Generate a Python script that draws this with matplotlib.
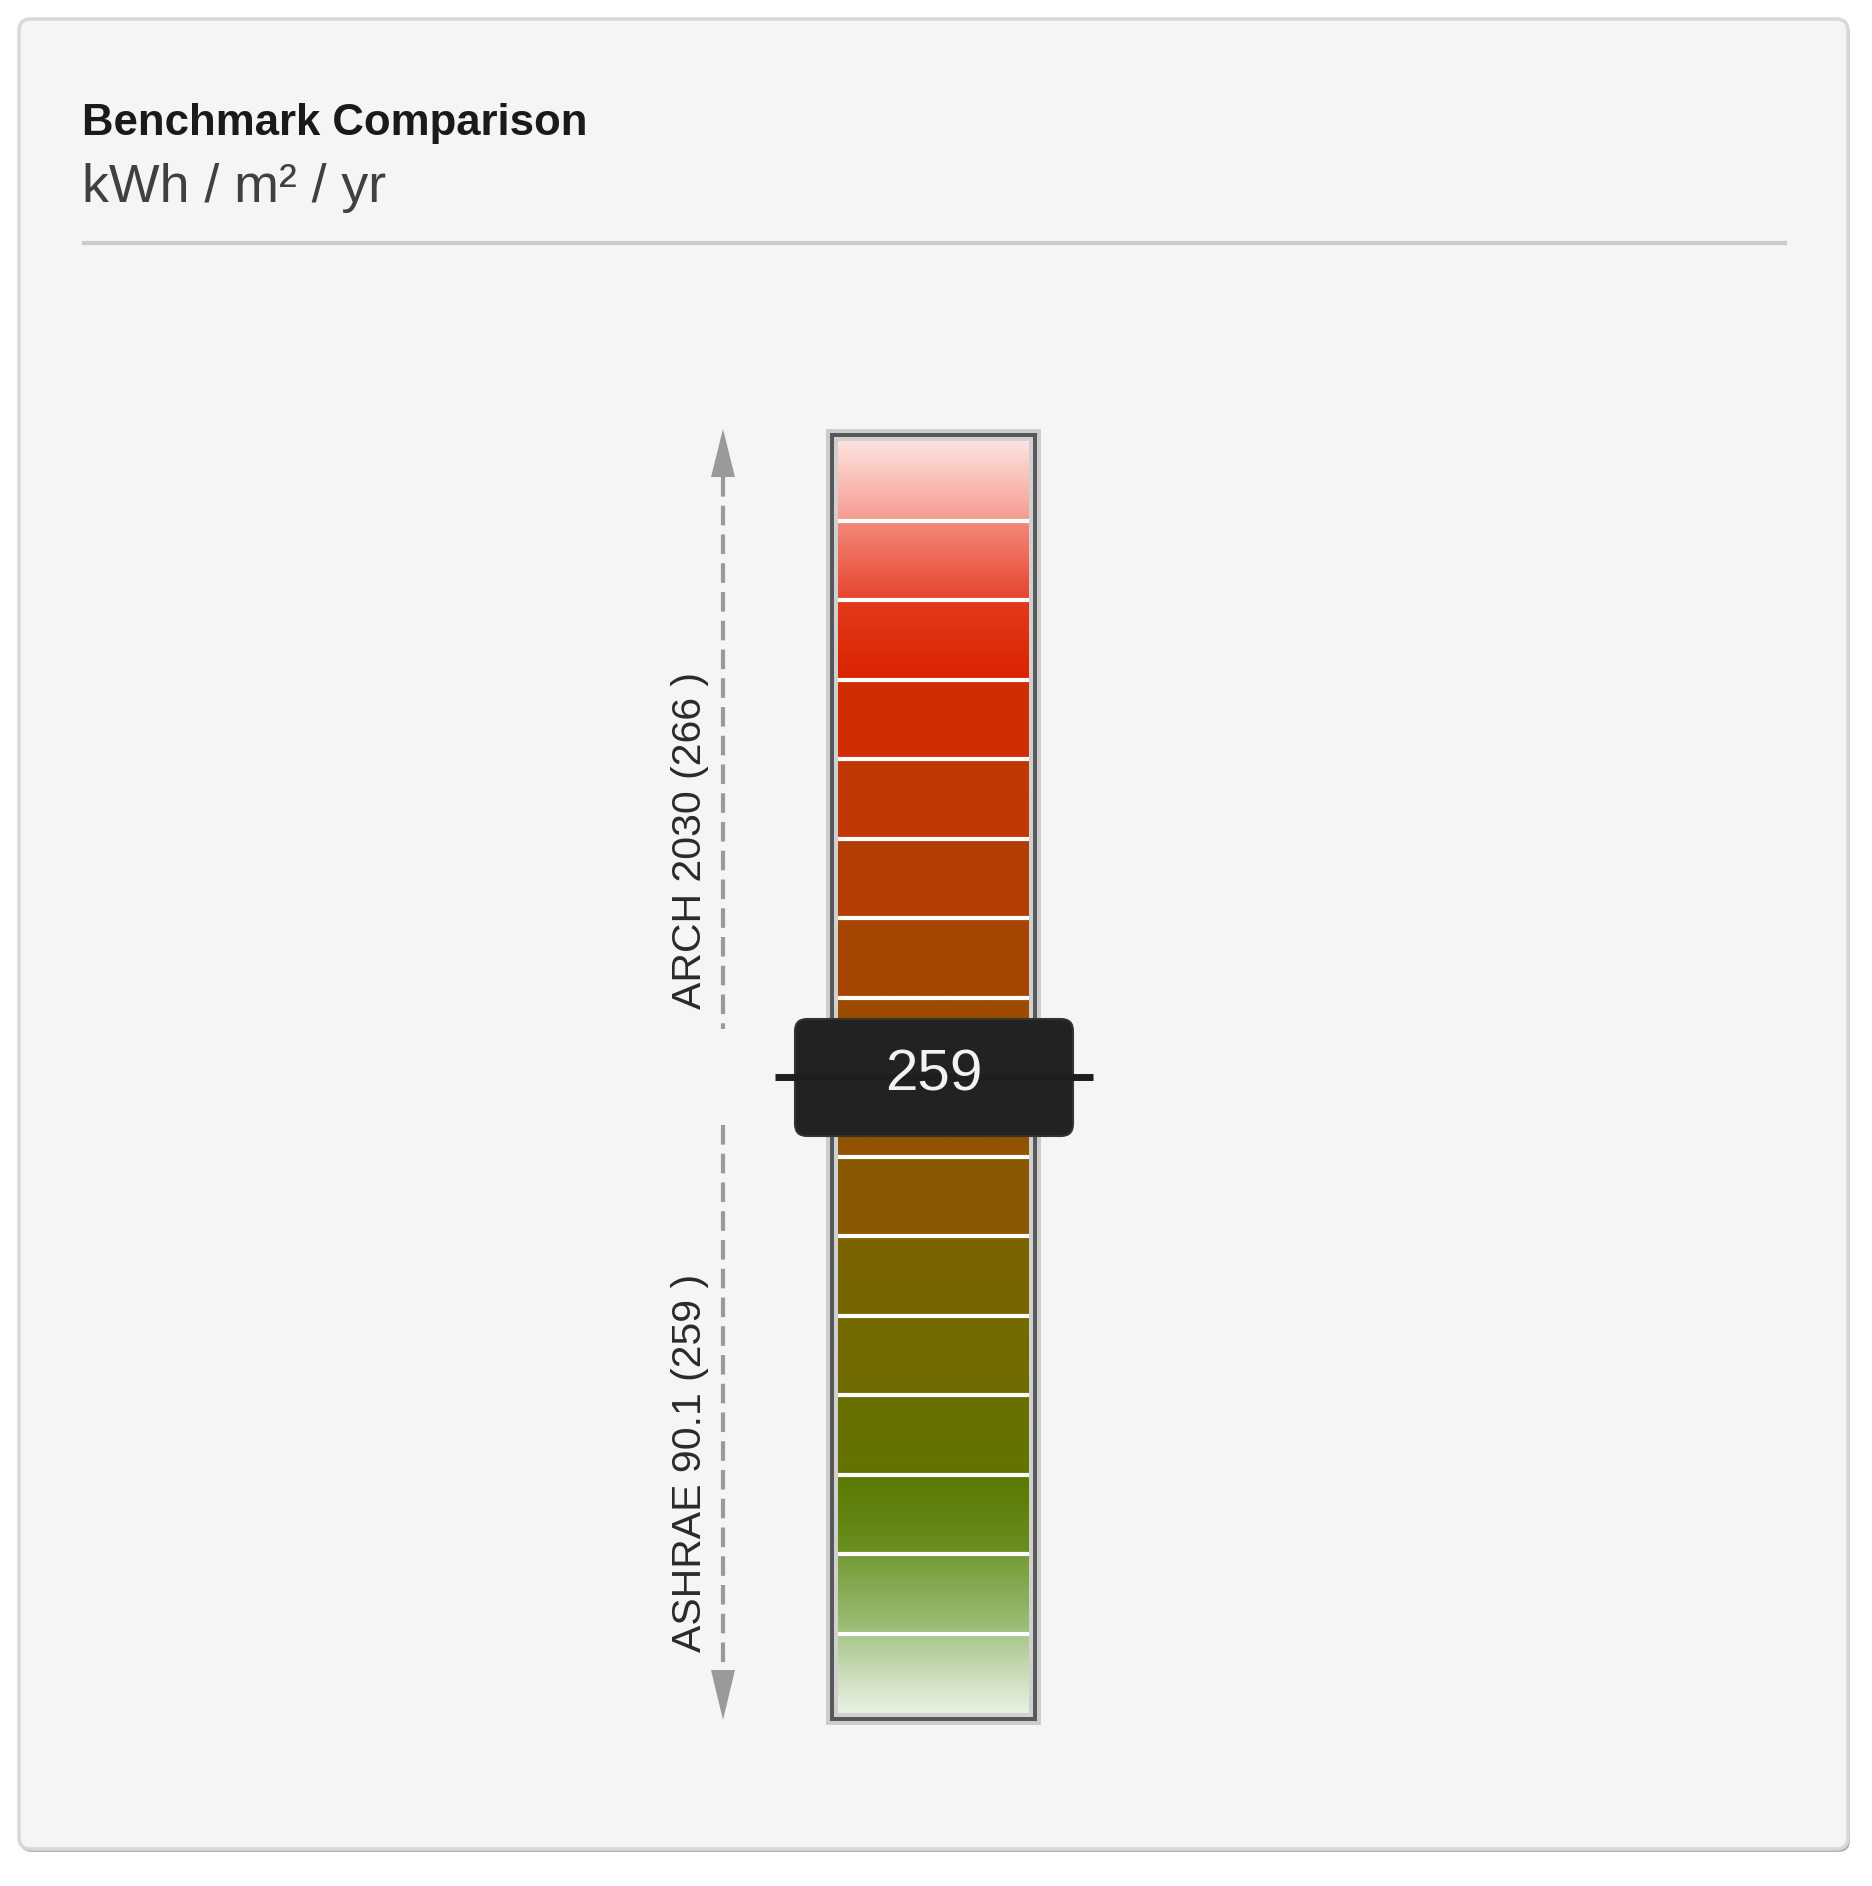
import numpy as np
import matplotlib
matplotlib.use("Agg")
import matplotlib.pyplot as plt
from matplotlib.colors import LinearSegmentedColormap
from matplotlib.patches import FancyBboxPatch, Rectangle, Polygon

# --- data ---
title = "Benchmark Comparison"
unit = "kWh / m² / yr"
current_value = 259
scale_lo, scale_hi = 252, 266
labels = ["ARCH 2030 (266 )", "ASHRAE 90.1 (259 )"]

# gradient colours of the 16 bands, top to bottom
seg_top = ["#fde3df", "#f48a7c", "#e23a1c", "#d02e04", "#c23805", "#b43e05",
           "#a74502", "#9c4c00", "#925300", "#8a5800", "#7c6400", "#746a00",
           "#6a7000", "#5a7800", "#739a35", "#a8c68c"]
seg_bot = ["#f59a8f", "#e5442e", "#d92300", "#cf2e04", "#c13805", "#b33e05",
           "#a64602", "#9c4c00", "#915300", "#895800", "#786600", "#706c00",
           "#647400", "#6a9020", "#a0c07e", "#eaf2e4"]

fam = ["Liberation Sans", "DejaVu Sans"]

W, H = 1872, 1886
fig = plt.figure(figsize=(W / 100, H / 100), dpi=100, facecolor="white")

ax = fig.add_axes([0, 0, 1, 1], zorder=0)
ax.set_xlim(0, W)
ax.set_ylim(H, 0)
ax.axis("off")

# panel with a soft shadow
ax.add_patch(FancyBboxPatch((20, 22), 1830, 1830, boxstyle="round,pad=0,rounding_size=12",
                            fc="#b0b0b0", ec="none"))
ax.add_patch(FancyBboxPatch((19, 19), 1829, 1830, boxstyle="round,pad=0,rounding_size=12",
                            fc="#f5f5f5", ec="#d8d8d8", lw=2.5))

ax.text(82, 135, title, fontsize=31.5, fontweight="bold", family=fam,
        color="#1a1a1a", va="baseline")
ax.text(82, 202, unit, fontsize=38.7, family=fam, color="#404040", va="baseline")
ax.plot([82, 1787], [243, 243], color="#cccccc", lw=3, solid_capstyle="butt")

# bar
bl, bt, br, bb = 838, 441, 1029, 1713
for off, col in [(12, "#cccccc"), (8, "#585858"), (4, "#d0d0d0")]:
    ax.add_patch(Rectangle((bl - off, bt - off), br - bl + 2 * off, bb - bt + 2 * off,
                           fc=col, ec="none"))

bax = fig.add_axes([bl / W, 1 - bb / H, (br - bl) / W, (bb - bt) / H], zorder=1)
edges = np.linspace(scale_hi, scale_lo, len(seg_top) + 1)
grad = np.linspace(0, 1, 128).reshape(-1, 1)
for i, (c0, c1) in enumerate(zip(seg_top, seg_bot)):
    cmap = LinearSegmentedColormap.from_list(f"seg{i}", [c0, c1])
    bax.imshow(grad, cmap=cmap, extent=[0, 1, edges[i + 1], edges[i]], origin="upper",
               aspect="auto", interpolation="bilinear")
for y in edges[1:-1]:
    bax.axhline(y, color="white", lw=3)
bax.set_xlim(0, 1)
bax.set_ylim(scale_lo, scale_hi)
bax.axis("off")

# overlay for marker, arrows and labels
top = fig.add_axes([0, 0, 1, 1], zorder=2)
top.set_xlim(0, W)
top.set_ylim(H, 0)
top.axis("off")

pix = bax.transData.transform((0.5, current_value))
ym = top.transData.inverted().transform(pix)[1]

ax_x = 723
top_end = ym - 48
bot_start = ym + 48
top.plot([ax_x, ax_x], [477, top_end], color="#9a9a9a", lw=3, linestyle=(0, (4.7, 2.2)))
top.plot([ax_x, ax_x], [bot_start, 1670], color="#9a9a9a", lw=3, linestyle=(0, (4.7, 2.2)))
top.add_patch(Polygon([(ax_x - 12, 477), (ax_x + 12, 477), (ax_x, 429)], fc="#9a9a9a", ec="none"))
top.add_patch(Polygon([(ax_x - 12, 1670), (ax_x + 12, 1670), (ax_x, 1720)], fc="#9a9a9a", ec="none"))

top.text(690, top_end - 20, labels[0], rotation=90, ha="center", va="bottom",
         fontsize=29.5, family=fam, color="#2a2a2a")
top.text(690, 1670 - 18, labels[1], rotation=90, ha="center", va="bottom",
         fontsize=29.5, family=fam, color="#2a2a2a")

top.plot([775, 1093], [ym, ym], color="#1e1e1e", lw=5, solid_capstyle="butt")
top.add_patch(FancyBboxPatch((795, ym - 58), 278, 117, boxstyle="round,pad=0,rounding_size=12",
                             fc="#222220", ec="#333331", lw=1.5))
top.text(934, ym - 2, str(current_value), ha="center", va="center", color="#f2f2f2",
         fontsize=42, family=fam)

fig.savefig("out.png", dpi=100, facecolor="white")
